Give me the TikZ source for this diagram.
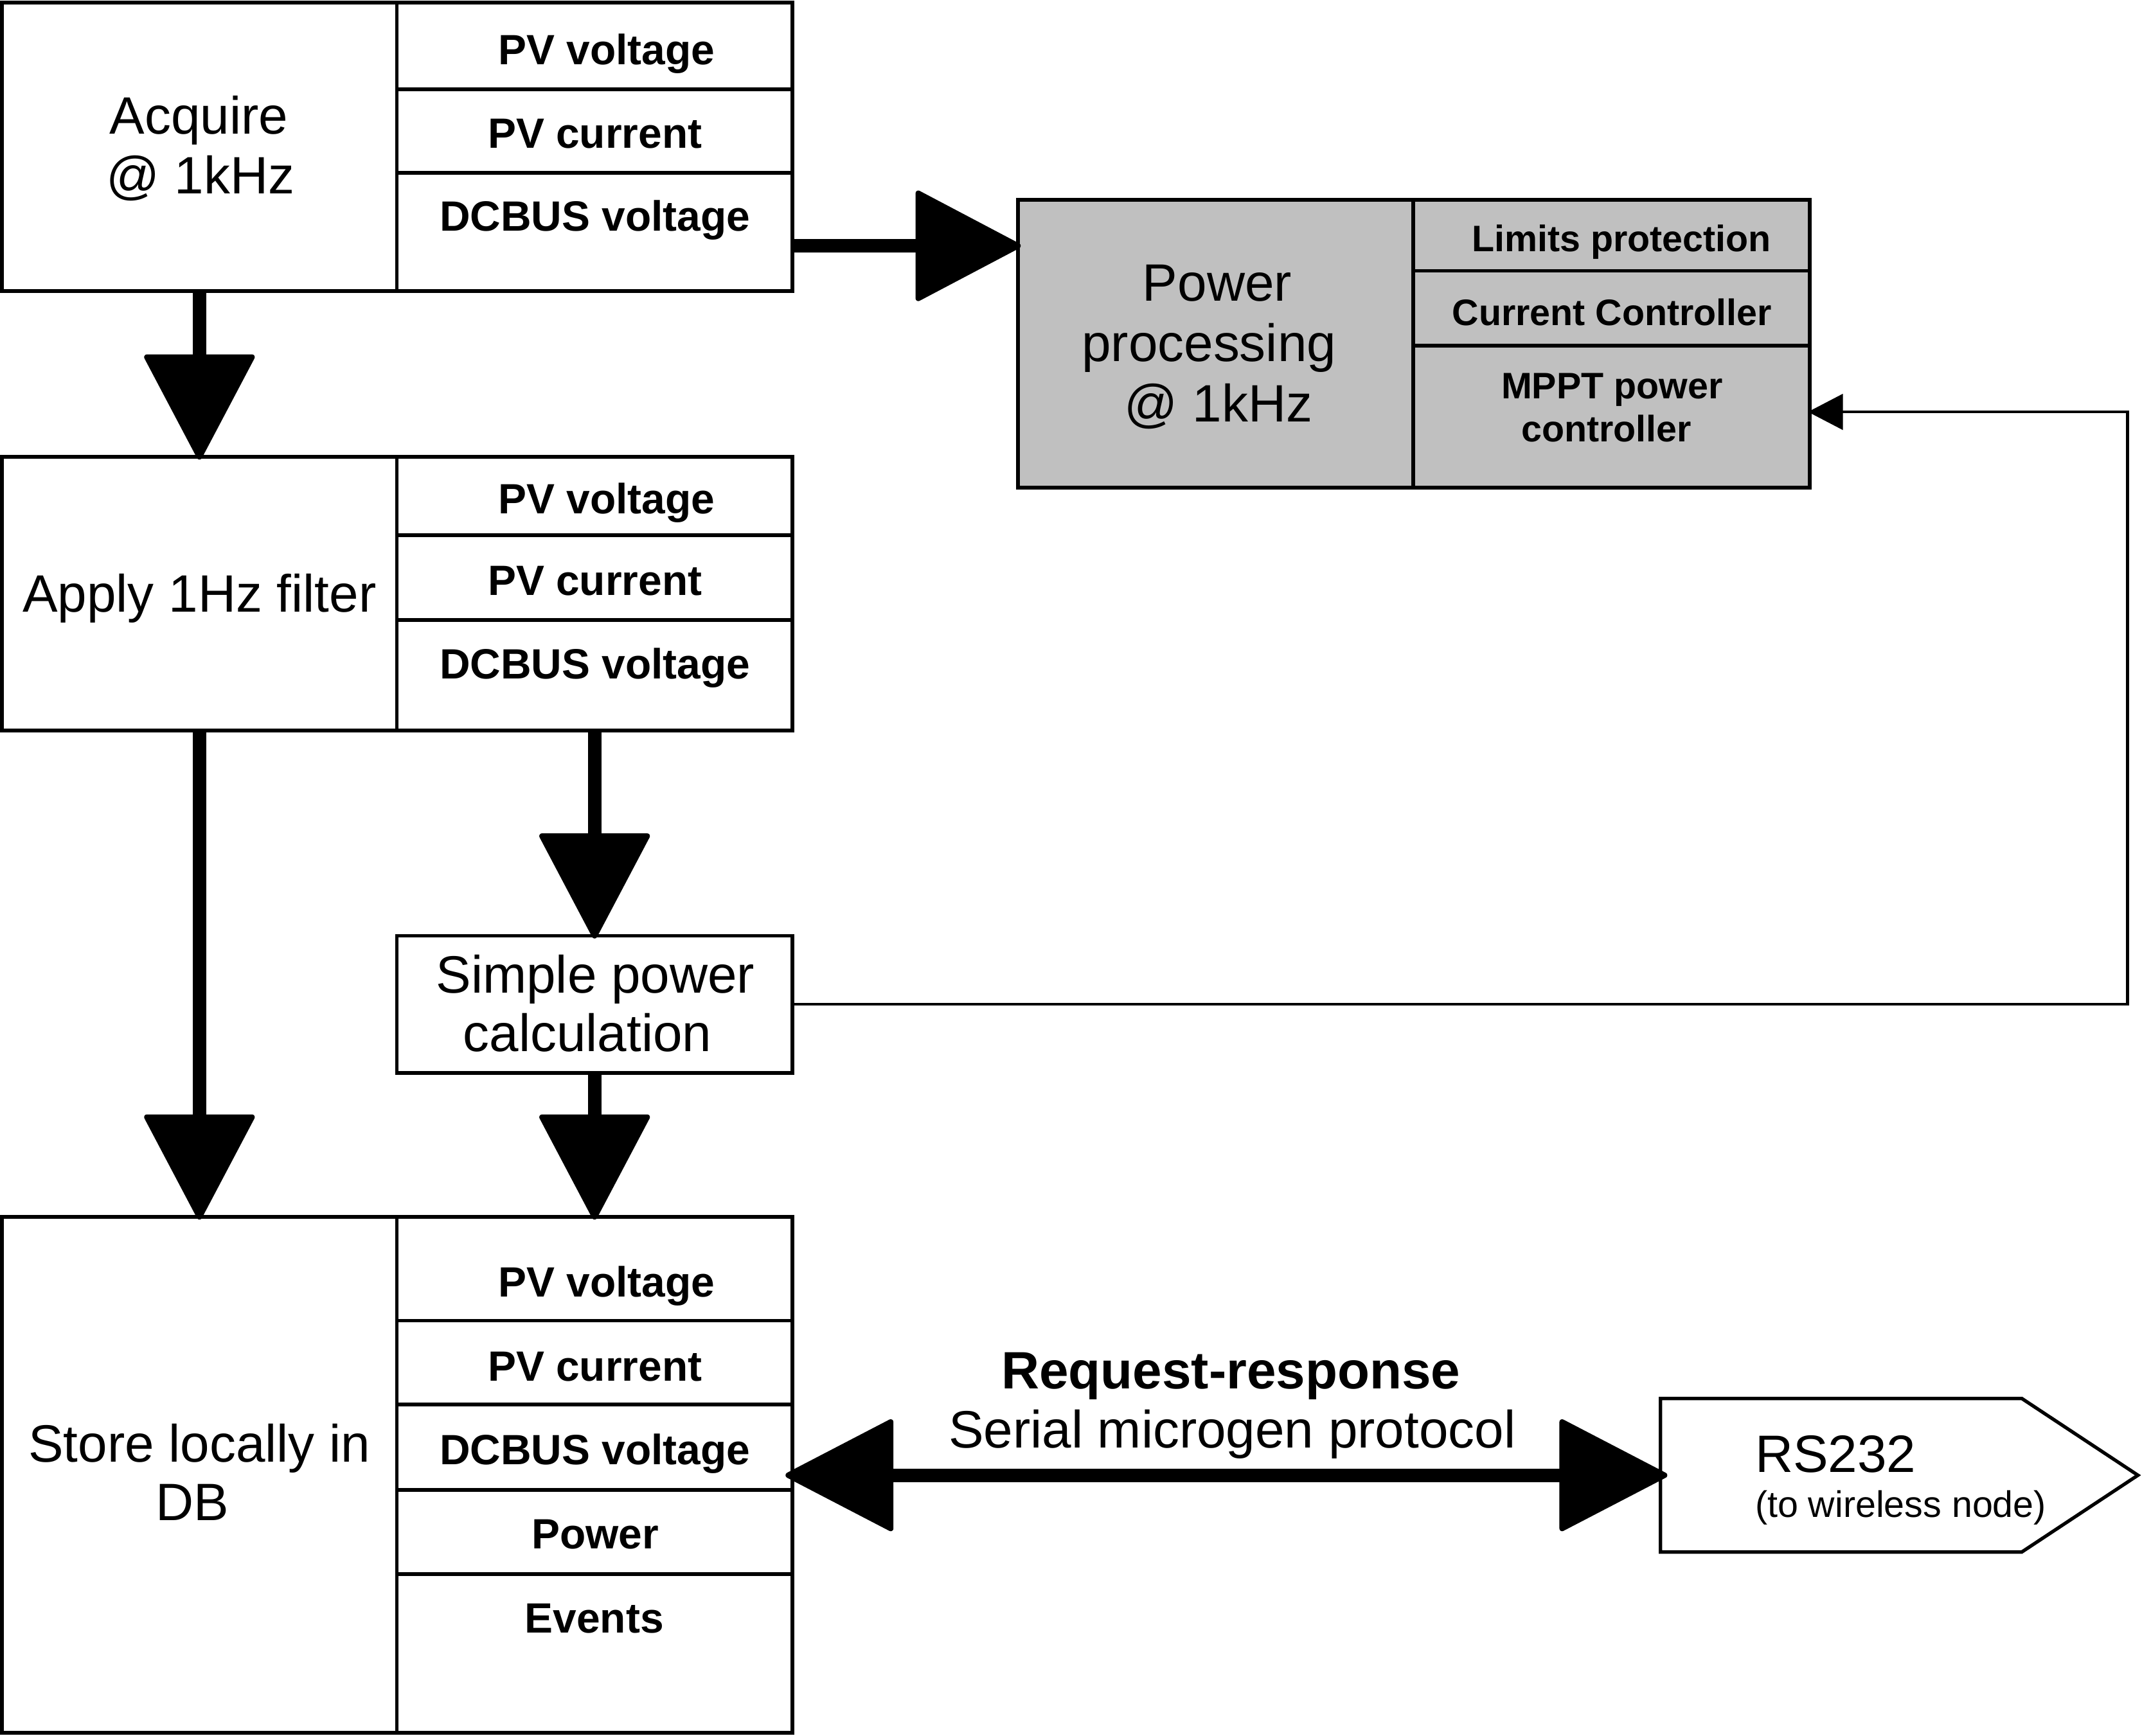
\documentclass[tikz,border=0pt]{standalone}
\usepackage{fontspec}
\setmainfont{Liberation Sans}
\usetikzlibrary{calc}
\definecolor{boxgray}{RGB}{192,192,192}
\tikzset{
 cell/.style={draw, line width=2.8pt, inner sep=0pt, outer sep=0pt, anchor=north west},
 gcell/.style={cell, fill=boxgray},
 big/.style={font=\fontsize{38.5pt}{43.5pt}\selectfont, anchor=base, inner sep=0pt},
 bigb/.style={font=\bfseries\fontsize{38.5pt}{43.5pt}\selectfont, anchor=base, inner sep=0pt},
 lab/.style={font=\bfseries\fontsize{31pt}{35pt}\selectfont, anchor=base, inner sep=0pt},
 slab/.style={font=\bfseries\fontsize{27pt}{30pt}\selectfont, anchor=base, inner sep=0pt},
 sreg/.style={font=\fontsize{27pt}{30pt}\selectfont, anchor=base west, inner sep=0pt},
 shaft/.style={line width=10pt},
 head/.style={fill=black, draw=black, line width=4pt, line join=round},
 conn/.style={line width=2pt},
 thead/.style={fill=black, draw=black, line width=1pt, line join=miter},
}
\begin{document}
\begin{tikzpicture}[x=1pt,y=-1pt]
\fill[white] (0,0) rectangle (1568,1270.7);
\useasboundingbox (0,0) rectangle (1568,1270.7);

% Acquire block
\node[cell, minimum width=289, minimum height=211.2] (acqL) at (1.5,1.8) {};
\node[cell, minimum width=289.5, minimum height=63.7] (acqPV) at (290.5,1.8) {};
\node[cell, minimum width=289.5, minimum height=61.1] (acqPC) at (290.5,65.5) {};
\node[cell, minimum width=289.5, minimum height=86.4] (acqDC) at (290.5,126.6) {};
\node[big] (tAcq1) at (145.5,98) {Acquire};
\node[big] (tAcq2) at (146.8,142) {@ 1kHz};
\node[lab] (tAcqPV) at (444,47.5) {PV voltage};
\node[lab] (tAcqPC) at (435.5,108.6) {PV current};
\node[lab] (tAcqDC) at (435.5,169) {DCBUS voltage};

% Apply block
\node[cell, minimum width=289, minimum height=200.5] (apL) at (1.5,334.5) {};
\node[cell, minimum width=289.5, minimum height=57.5] (apPV) at (290.5,334.5) {};
\node[cell, minimum width=289.5, minimum height=62] (apPC) at (290.5,392) {};
\node[cell, minimum width=289.5, minimum height=81] (apDC) at (290.5,454) {};
\node[big] (tAp) at (146,448) {Apply 1Hz filter};
\node[lab] (tApPV) at (444,376) {PV voltage};
\node[lab] (tApPC) at (435.5,436) {PV current};
\node[lab] (tApDC) at (435.5,497) {DCBUS voltage};

% Simple power calculation
\node[cell, minimum width=289.5, minimum height=100.3] (sp) at (290.5,685.2) {};
\node[big] (tSp1) at (435.8,727) {Simple power};
\node[big] (tSp2) at (430,770) {calculation};

% Store block
\node[cell, minimum width=289, minimum height=378] (stL) at (1.5,891) {};
\node[cell, minimum width=289.5, minimum height=76] (stPV) at (290.5,891) {};
\node[cell, minimum width=289.5, minimum height=61.3] (stPC) at (290.5,967) {};
\node[cell, minimum width=289.5, minimum height=62.5] (stDC) at (290.5,1028.3) {};
\node[cell, minimum width=289.5, minimum height=61.7] (stPW) at (290.5,1090.8) {};
\node[cell, minimum width=289.5, minimum height=116.5] (stEV) at (290.5,1152.5) {};
\node[big] (tSt1) at (146,1070.5) {Store locally in};
\node[big] (tSt2) at (141,1113.5) {DB};
\node[lab] (tStPV) at (444,949.5) {PV voltage};
\node[lab] (tStPC) at (435.5,1011) {PV current};
\node[lab] (tStDC) at (435.5,1072.5) {DCBUS voltage};
\node[lab] (tStPW) at (435.7,1134) {Power};
\node[lab] (tStEV) at (435,1195.5) {Events};

% Power processing block
\node[gcell, minimum width=289.5, minimum height=210.8] (pwL) at (745.2,146.2) {};
\node[gcell, minimum width=289.9, minimum height=52.1] (pwLP) at (1034.7,146.2) {};
\node[gcell, minimum width=289.9, minimum height=54.6] (pwCC) at (1034.7,198.3) {};
\node[gcell, minimum width=289.9, minimum height=104.1] (pwMP) at (1034.7,252.9) {};
\node[big] (tPw1) at (891,220.5) {Power};
\node[big] (tPw2) at (885,264.6) {processing};
\node[big] (tPw3) at (892,308.7) {@ 1kHz};
\node[slab] (tLP) at (1187,184) {Limits protection};
\node[slab] (tCC) at (1180,238.5) {Current Controller};
\node[slab] (tMP1) at (1180,292) {MPPT power};
\node[slab] (tMP2) at (1176,323.4) {controller};

% RS232 shape
\node[inner sep=0pt, outer sep=0pt, anchor=north west, minimum width=264.5, minimum height=112.4] (rs) at (1215.5,1024) {};
\draw[line width=2.5pt, line join=miter] (rs.north west) -- (rs.north east) -- ($(rs.east)+(85,0)$) -- (rs.south east) -- (rs.south west) -- cycle;
\node[big, anchor=base west] (tRS1) at (1284.6,1078) {RS232};
\node[sreg] (tRS2) at (1284.6,1111) {(to wireless node)};

% Protocol labels
\node[bigb] (tReq) at (901,1017) {Request-response};
\node[big] (tSer) at (902,1060) {Serial microgen protocol};

% Arrow: Acquire -> Apply
\draw[shaft] (acqL.south) -- ($(apL.north)+(0,-62)$);
\filldraw[head] (apL.north) -- ++(-38.5,-73) -- ++(77,0) -- cycle;

% Arrow: Acquire -> Power processing
\coordinate (r1) at ($(acqDC.east)+(0,10.2)$);
\coordinate (r1t) at (r1 -| pwL.west);
\draw[shaft] (r1) -- ($(r1t)+(-62,0)$);
\filldraw[head] (r1t) -- ++(-73,-38.5) -- ++(0,77) -- cycle;

% Arrow: Apply -> Store
\draw[shaft] (apL.south) -- ($(stL.north)+(0,-62)$);
\filldraw[head] (stL.north) -- ++(-38.5,-73) -- ++(77,0) -- cycle;

% Arrow: Apply DCBUS -> Simple power
\draw[shaft] (apDC.south) -- ($(sp.north)+(0,-62)$);
\filldraw[head] (sp.north) -- ++(-38.5,-73) -- ++(77,0) -- cycle;

% Arrow: Simple power -> Store
\draw[shaft] (sp.south) -- ($(stPV.north)+(0,-62)$);
\filldraw[head] (stPV.north) -- ++(-38.5,-73) -- ++(77,0) -- cycle;

% Double arrow: Store <-> RS232
\coordinate (dL) at ($(rs.west -| stDC.east)+(-3,0)$);
\coordinate (dR) at ($(rs.west)+(3,0)$);
\draw[shaft] ($(dL)+(60,0)$) -- ($(dR)+(-60,0)$);
\filldraw[head] (dL) -- ++(75,-39) -- ++(0,78) -- cycle;
\filldraw[head] (dR) -- ++(-75,-39) -- ++(0,78) -- cycle;

% Thin feedback: Simple power -> MPPT
\coordinate (turn) at (1557.4,0);
\coordinate (mpIn) at ($(pwMP.east)+(0,-3.35)$);
\draw[conn] (sp.east) -- (sp.east -| turn) -- (mpIn -| turn) -- ($(mpIn)+(20,0)$);
\filldraw[thead] (mpIn) -- ++(24,-12.5) -- ++(0,25) -- cycle;
\end{tikzpicture}
\end{document}
